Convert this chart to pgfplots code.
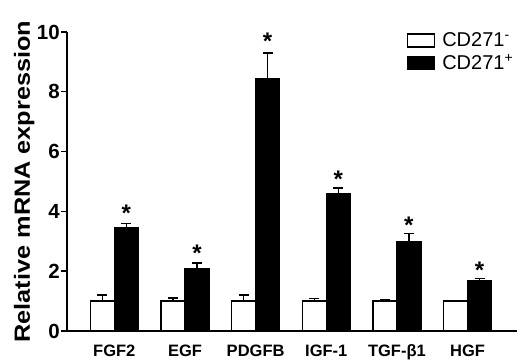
\documentclass[border=0pt]{standalone}
\usepackage{pgfplots}
\pgfplotsset{compat=1.18}
\usepackage{fontspec}
\setmainfont{Liberation Sans}
\tikzset{star/.style={anchor=north, inner sep=0pt, font=\bfseries\fontsize{24}{24}\selectfont, xshift=12pt}}
\newcommand{\lgf}{\fontsize{20}{23}\selectfont}
\begin{document}
\begin{tikzpicture}
\begin{axis}[
  name=ax,
  scale only axis,
  width=450pt, height=299pt,
  xmin=-0.67, xmax=5.70,
  ymin=0, ymax=10,
  axis x line=bottom, axis y line=left,
  axis line style={-, line width=1.8pt},
  xtick={0,1,2,3,4,5},
  xticklabels={FGF2,EGF,PDGFB,IGF-1,TGF-β1,HGF},
  x tick style={draw=none},
  ytick={0,2,4,6,8,10},
  y tick style={line width=1.4pt, black},
  tick align=outside,
  major tick length=6pt,
  /pgf/number format/assume math mode=true,
  yticklabel style={font=\bfseries\fontsize{20.5}{22}\selectfont, inner sep=1pt},
  xticklabel style={font=\bfseries\fontsize{16.5}{18}\selectfont, yshift=-4pt},
  ylabel={\scalebox{1.15}[1]{Relative mRNA expression}},
  ylabel style={font=\bfseries\fontsize{22}{24}\selectfont, yshift=-2pt},
  ybar=0pt, bar width=24pt,
  legend style={draw=none, fill=none, at={(axis cs:4.14,10.05)}, anchor=north west,
    row sep=2pt, inner sep=0pt,
    /tikz/every odd column/.append style={column sep=5pt}},
  legend cell align=left,
  legend image code/.code={\draw[#1, line width=1.3pt] (0pt,-6.5pt) rectangle (27pt,6.5pt);},
]
\addplot[draw=black, fill=white, line width=1.3pt,
  error bars/.cd, y dir=plus, y explicit,
  error bar style={line width=1.5pt, black},
  error mark options={rotate=90, mark size=5pt, line width=1.5pt, black}]
  coordinates {(0,1.0) +- (0,0.21) (1,1.0) +- (0,0.11) (2,1.0) +- (0,0.21)
               (3,1.0) +- (0,0.09) (4,1.0) +- (0,0.03) (5,1.0) +- (0,0.01)};
\addlegendentry{\lgf CD271\textsuperscript{-}}
\addplot[draw=black, fill=black, line width=1.3pt,
  error bars/.cd, y dir=plus, y explicit,
  error bar style={line width=1.5pt, black},
  error mark options={rotate=90, mark size=5pt, line width=1.5pt, black}]
  coordinates {(0,3.45) +- (0,0.15) (1,2.10) +- (0,0.18) (2,8.45) +- (0,0.84)
               (3,4.60) +- (0,0.18) (4,2.98) +- (0,0.28) (5,1.67) +- (0,0.09)};
\addlegendentry{\lgf CD271\textsuperscript{+}}
\node[star] at (axis cs:0,4.22) {*};
\node[star] at (axis cs:1,2.88) {*};
\node[star] at (axis cs:2,9.97) {*};
\node[star] at (axis cs:3,5.37) {*};
\node[star] at (axis cs:4,3.82) {*};
\node[star] at (axis cs:5,2.32) {*};
\end{axis}
\pgfresetboundingbox
\path ([shift={(-67pt,-32pt)}]ax.south west) rectangle ++(518pt,363pt);
\end{tikzpicture}
\end{document}
